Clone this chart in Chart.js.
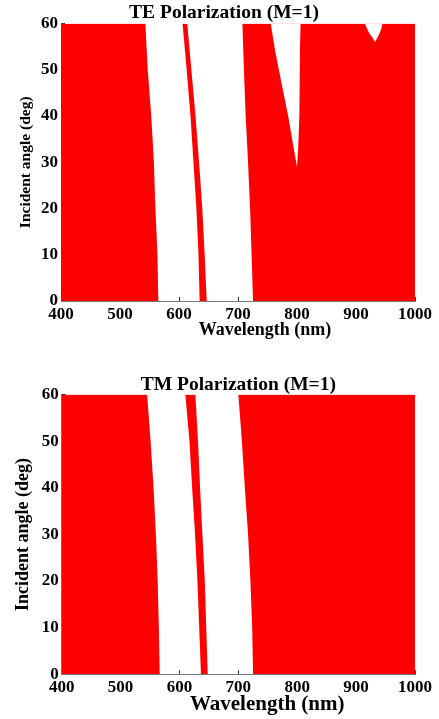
<!DOCTYPE html>
<html>
<head>
<meta charset="utf-8">
<script src="https://cdn.jsdelivr.net/npm/chart.js@4"></script>
<style>
  html, body { margin: 0; padding: 0; background: #fff; }
  #wrap { position: relative; width: 439px; height: 719px; overflow: hidden; }
  #teChart { position: absolute; left: 0; top: 0; }
  #tmChart { position: absolute; left: 0; top: 350px; }
</style>
</head>
<body>
<div id="wrap">
  <canvas id="teChart" width="439" height="350"></canvas>
  <canvas id="tmChart" width="439" height="369"></canvas>
</div>
<script>
// axis ticks
const wavelengthTicks = [400, 500, 600, 700, 800, 900, 1000];
const angleTicks = [0, 10, 20, 30, 40, 50, 60];

// band edges (nm) sampled at these incident angles (deg)
const angleSteps = [0, 10, 20, 30, 40, 50, 60];

// TE polarization
const teEdge1 = [565, 563.5, 560, 557.5, 553, 547, 543];
const teBandLeft = [635, 633, 629.5, 624.5, 619.5, 613, 606];
const teBandRight = [647, 643.5, 639.5, 634, 628, 621, 614];
const teEdge3 = [725.5, 723, 720.5, 717, 713, 710, 707.5];
const teNotch1Angles = [29, 33, 40, 47, 54, 60];
const teNotch1Left = [800, 794.5, 785, 774, 763, 755.5];
const teNotch1Right = [800, 802, 803.5, 804.5, 805, 806];
const teNotch2Angles = [56, 57, 58, 59, 60];
const teNotch2Left = [932, 928, 922, 918.5, 915];
const teNotch2Right = [932, 936.5, 940.5, 943, 945];

// TM polarization
const tmEdge1 = [566.5, 565, 563, 560, 556, 551, 545];
const tmBandLeft = [636.5, 633.5, 630.5, 626.5, 621.5, 617, 610];
const tmBandRight = [648, 645.5, 643, 639, 635, 631.5, 627];
const tmEdge3 = [725, 723.5, 720.5, 716.5, 711, 706, 700];

const RED = '#ff0000';
const SERIF = "'Liberation Serif', 'Times New Roman', serif";

function pts(angles, wl) {
  return angles.map((a, i) => ({ x: wl[i], y: a }));
}

function edge(angles, wl, fill, color) {
  return {
    data: pts(angles, wl),
    fill: fill,
    backgroundColor: color,
    borderColor: 'transparent',
    borderWidth: 0,
    pointRadius: 0,
    tension: 0
  };
}

function makeChart(id, title, datasets, s) {
  const ctx = document.getElementById(id).getContext('2d');
  return new Chart(ctx, {
    type: 'line',
    data: { datasets: datasets },
    options: {
      indexAxis: 'y',
      responsive: false,
      animation: false,
      events: [],
      layout: { padding: { left: s.padLeft, right: 21, top: 0, bottom: 0 } },
      plugins: {
        legend: { display: false },
        tooltip: { enabled: false },
        title: {
          display: true,
          text: title,
          color: '#000',
          fullSize: s.titleFull,
          font: { family: SERIF, size: s.titleSize, weight: 'bold', lineHeight: 1 },
          padding: { top: s.titleTop, bottom: s.titleBottom }
        }
      },
      scales: {
        x: {
          type: 'linear',
          min: 400,
          max: 1000,
          afterBuildTicks: (scale) => { scale.ticks = wavelengthTicks.map(v => ({ value: v })); },
          afterFit: (scale) => { scale.height = s.xHeight; },
          grid: { drawOnChartArea: false, drawTicks: true, tickLength: -4, color: '#333' },
          border: { display: true, color: '#777', width: 1 },
          ticks: {
            color: '#000',
            padding: 7,
            maxRotation: 0,
            callback: (v) => String(v),
            font: { family: SERIF, size: s.tickSize, weight: 'bold' }
          },
          title: {
            display: true,
            // leading spaces push the label right, as in the original figure
            text: ' '.repeat(s.xTitleShift) + 'Wavelength (nm)',
            color: '#000',
            font: { family: SERIF, size: s.xTitleSize, weight: 'bold', lineHeight: 1.2 },
            padding: { top: 0, bottom: s.xTitleBottom }
          }
        },
        y: {
          type: 'linear',
          min: 0,
          max: 60,
          afterBuildTicks: (scale) => { scale.ticks = angleTicks.map(v => ({ value: v })); },
          afterFit: (scale) => { scale.width = s.yWidth; },
          grid: { drawOnChartArea: false, drawTicks: true, tickLength: -4, color: '#333' },
          border: { display: true, color: '#777', width: 1 },
          ticks: {
            color: '#000',
            padding: 7,
            callback: (v) => String(v),
            font: { family: SERIF, size: s.tickSize, weight: 'bold' }
          },
          title: {
            display: true,
            text: 'Incident angle (deg)',
            color: '#000',
            font: { family: SERIF, size: s.yTitleSize, weight: 'bold', lineHeight: 1.2 },
            padding: { top: s.yTitleTop, bottom: 0 }
          }
        }
      }
    }
  });
}

// lower index is painted on top, so the white notches come first
const teSets = [
  edge(teNotch1Angles, teNotch1Left, '+1', '#ffffff'),
  edge(teNotch1Angles, teNotch1Right, false, '#ffffff'),
  edge(teNotch2Angles, teNotch2Left, '+1', '#ffffff'),
  edge(teNotch2Angles, teNotch2Right, false, '#ffffff'),
  edge(angleSteps, teEdge1, { value: 400 }, RED),
  edge(angleSteps, teBandLeft, '+1', RED),
  edge(angleSteps, teBandRight, false, RED),
  edge(angleSteps, teEdge3, { value: 1000 }, RED)
];

const tmSets = [
  edge(angleSteps, tmEdge1, { value: 400 }, RED),
  edge(angleSteps, tmBandLeft, '+1', RED),
  edge(angleSteps, tmBandRight, false, RED),
  edge(angleSteps, tmEdge3, { value: 1000 }, RED)
];

makeChart('teChart', 'TE Polarization (M=1)', teSets, {
  padLeft: 30, titleFull: true,
  titleSize: 19.5, titleTop: 3.25, titleBottom: 0.75,
  xHeight: 49, xTitleSize: 18, xTitleBottom: 8.5, xTitleShift: 12,
  yWidth: 31, yTitleSize: 15.5, yTitleTop: -13.3,
  tickSize: 17
});

makeChart('tmChart', 'TM Polarization (M=1)', tmSets, {
  padLeft: 0, titleFull: false,
  titleSize: 19.5, titleTop: 25, titleBottom: 0,
  xHeight: 44.7, xTitleSize: 21, xTitleBottom: 1.5, xTitleShift: 11,
  yWidth: 61.7, yTitleSize: 18, yTitleTop: 13,
  tickSize: 17
});
</script>
</body>
</html>
